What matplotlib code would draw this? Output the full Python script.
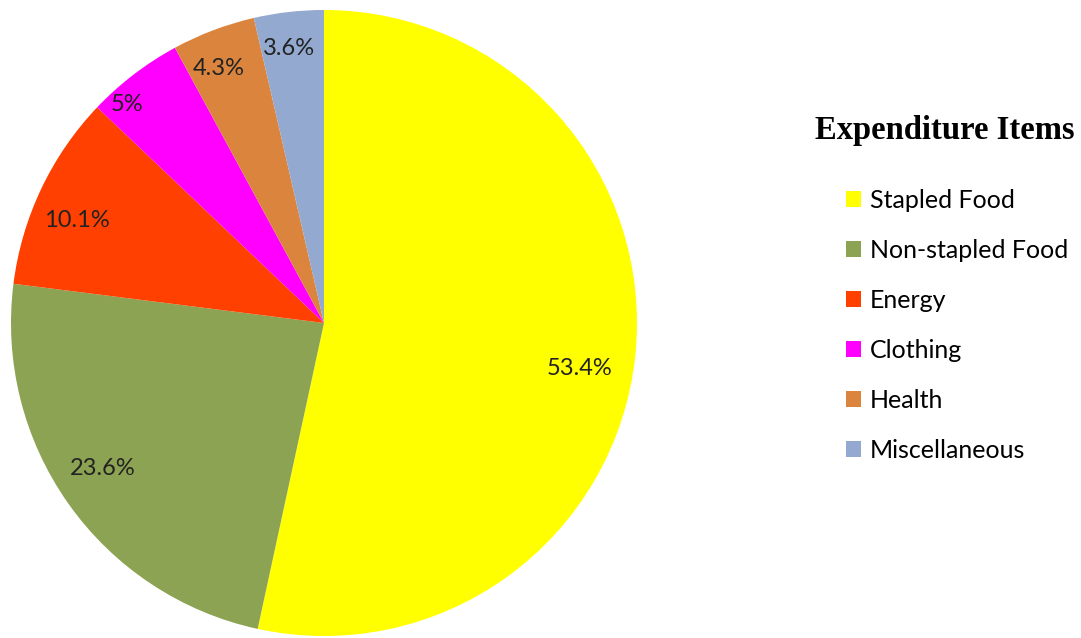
import numpy as np
import matplotlib
matplotlib.use("Agg")
import matplotlib.pyplot as plt

# ── data ─────────────────────────────────────────────────────────────
items = ["Stapled Food", "Non-stapled Food", "Energy", "Clothing", "Health", "Miscellaneous"]
shares = [53.4, 23.6, 10.1, 5.0, 4.3, 3.6]
pct_labels = ["53.4%", "23.6%", "10.1%", "5%", "4.3%", "3.6%"]
colors = ["#FFFF00", "#8BA352", "#FF4000", "#FF00FF", "#DB843D", "#93A9CF"]
# label placement: radius (fraction of pie radius) and angular nudge (deg)
label_r = [0.83, 0.845, 0.855, 0.94, 0.88, 0.885]
label_dang = [-3.9, -2.0, 2.8, 4.7, 1.7, 0.8]

W, H = 1081, 638
fig = plt.figure(figsize=(W / 100, H / 100), dpi=100)

# pie: centre ~ (324, 323) px, radius ~ 313 px
cx, cy, r = 324, 323, 313
ax = fig.add_axes([(cx - r) / W, (H - cy - r) / H, 2 * r / W, 2 * r / H])
wedges, _ = ax.pie(shares, colors=colors, startangle=90, counterclock=False,
                   radius=1.0, wedgeprops=dict(linewidth=0))
ax.set_xlim(-1, 1)
ax.set_ylim(-1, 1)
ax.set_aspect("equal")
ax.axis("off")

for w, lab, lr, da in zip(wedges, pct_labels, label_r, label_dang):
    ang = np.deg2rad((w.theta1 + w.theta2) / 2 + da)
    ax.text(lr * np.cos(ang), lr * np.sin(ang), lab, ha="center", va="center",
            fontsize=17, family="Lato", color="#222222")

# legend
fig.text(945 / W, 1 - 131 / H, "Expenditure Items", ha="center", va="center",
         fontsize=23.5, fontweight="bold", family="Liberation Serif")
fig.legend(wedges, items, loc="upper left", bbox_to_anchor=(846 / W, 1 - 189 / H),
           frameon=False, prop=dict(family="Lato", size=18), borderpad=0,
           handlelength=0.6, handleheight=0.6, handletextpad=0.35,
           labelspacing=1.08, borderaxespad=0)

fig.savefig("out.png", dpi=100)
